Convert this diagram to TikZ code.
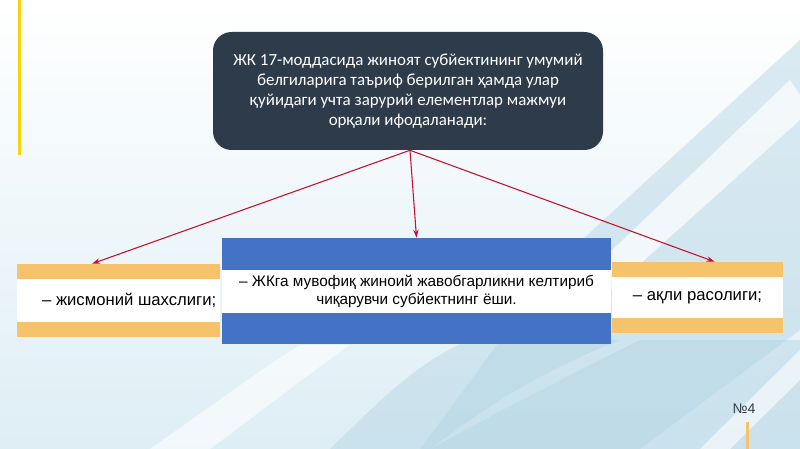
\documentclass[tikz,border=0pt]{standalone}
\usepackage{fontspec}
\setmainfont{Liberation Sans}
\newfontfamily\titlefont{Carlito}
\usetikzlibrary{calc,arrows.meta}
\definecolor{slate}{RGB}{46,59,74}
\definecolor{bandblue}{RGB}{68,114,196}
\definecolor{barorange}{RGB}{246,194,108}
\definecolor{linkred}{RGB}{200,16,46}
\definecolor{skyA}{RGB}{222,238,245}
\definecolor{skyB}{RGB}{178,212,228}
\tikzset{
  bar/.style={fill=barorange,draw=none},
  strip/.style={fill=white,draw=none,inner sep=0pt,align=center,
    font=\fontsize{12.5}{15}\selectfont},
  link/.style={linkred,line width=0.8pt,-{Stealth[length=6pt,width=4pt]}},
  haze/.style={fill=skyB,opacity=0.45,draw=none}
}
\begin{document}
\begin{tikzpicture}[x=0.75pt,y=-0.75pt]
          \useasboundingbox (0,0) rectangle (800,449);
          % background
          \shade[shading angle=135,top color=white,bottom color=skyA] (0,0) rectangle (800,449);
          \fill[haze] (560,260) -- (800,40) -- (800,330) -- (640,449) -- (420,449) -- cycle;
          \fill[haze] (330,449) .. controls (380,400) and (420,360) .. (470,340)
            -- (620,340) .. controls (520,380) and (470,420) .. (430,449) -- cycle;
          \fill[haze] (430,449) .. controls (520,400) and (600,360) .. (640,340)
            -- (800,340) -- (800,449) -- cycle;
          \fill[white,opacity=0.7] (560,300) -- (790,80) -- (800,95) -- (800,120) -- (600,300) -- cycle;
          \fill[white,opacity=0.6] (150,449) .. controls (220,400) and (260,370) .. (300,345)
            -- (350,345) .. controls (300,380) and (250,420) .. (210,449) -- cycle;
          \fill[white,opacity=0.6] (700,449) -- (800,350) -- (800,380) -- (730,449) -- cycle;
          \fill[yellow!70!orange] (18,0) rectangle (21,155);
          \fill[barorange] (746,422) rectangle (749,449);
          % title box
          \draw node[fill=slate,rounded corners=14pt,minimum width=292.5pt,
            minimum height=88.5pt,align=center,text=white,
            font=\titlefont\fontsize{12.7}{15}\selectfont] (rule) at (408,91)
          {ЖК 17-моддасида жиноят субйектининг умумий\\белгиларига таъриф берилган ҳамда улар\\қуйидаги учта зарурий елементлар мажмуи\\орқали ифодаланади:};
          % left strip
          \fill[bar] (17,264) rectangle (220,279);
          \fill[bar] (17,322) rectangle (220,337);
          \draw node[strip,minimum width=152.25pt,minimum height=32.25pt] (body) at (118.5,300.5)
          {\hspace*{16pt}– жисмоний шахслиги;};
          % middle box
          \fill[bandblue] (222,238) rectangle (611,344);
          \draw node[strip,minimum width=291.75pt,minimum height=32.25pt,
            font=\fontsize{11.5}{13.5}\selectfont] (age) at (416.5,291.5)
          {– ЖКга мувофиқ жиноий жавобгарликни келтириб\\чиқарувчи субйектнинг ёши.};
          % right strip
          \fill[bar] (612,262) rectangle (783,277);
          \fill[bar] (612,318) rectangle (783,333);
          \draw node[strip,minimum width=128.25pt,minimum height=30.75pt] (mind) at (697.5,297.5)
          {– ақли расолиги;};
          % links
          \coordinate (top) at ($(rule.south)+(2,0)$);
          \draw[link] (top) -- ($(body.north west)!0.37!(body.north east)+(0,-15)$);
          \draw[link] (top) -- ($(age.north)+(0,-32)$);
          \draw[link] (top) -- ($(mind.north west)!0.6!(mind.north east)+(0,-15)$);
          \node[font=\fontsize{10.5}{12}\selectfont,text=slate] (page) at (744,409) {№4};
        \end{tikzpicture}
\end{document}
